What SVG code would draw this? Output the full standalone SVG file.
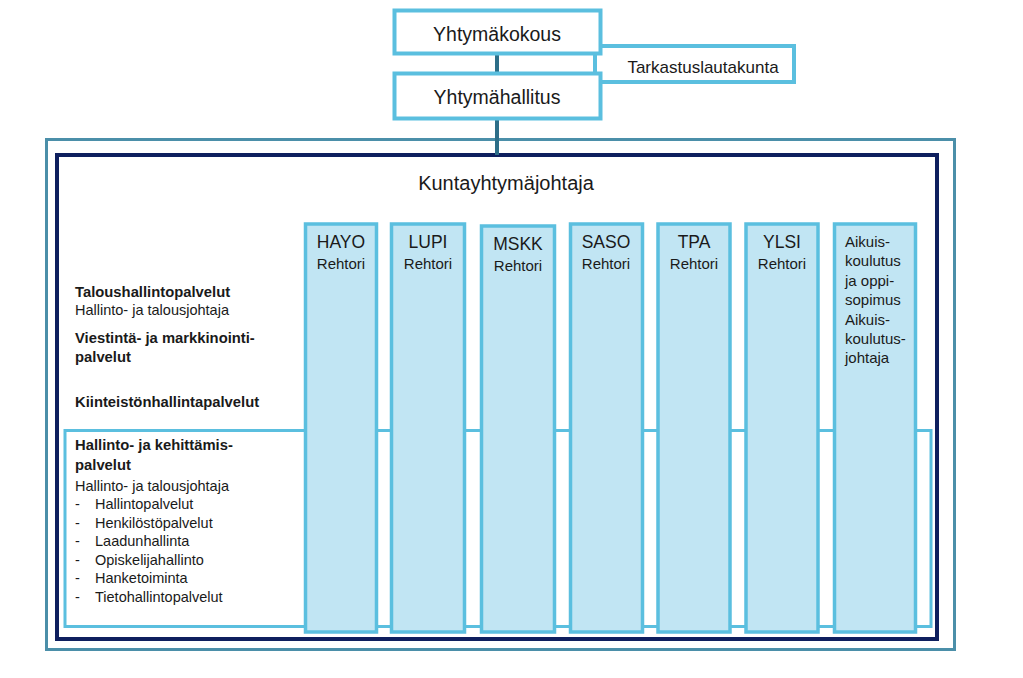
<svg xmlns="http://www.w3.org/2000/svg" width="1023" height="678" viewBox="0 0 1023 678">
<style>
text{font-family:"Liberation Sans",Arial,sans-serif;fill:#1a1a1a}
.box{fill:#fff;stroke:#5bbfdf;stroke-width:4}
.col{fill:#c1e5f3;stroke:#5bbfdf;stroke-width:3.5}
.conn{stroke:#2d6e88;stroke-width:4;fill:none}
.b{font-weight:bold;font-size:14.8px}
.r{font-size:14.5px}
.ct{font-size:17.5px;text-anchor:middle}
.cr{font-size:15px;text-anchor:middle}
.ak{font-size:15px}
</style>
<rect width="1023" height="678" fill="#fff"/>
<g id="outer">
<rect x="46.5" y="139.5" width="908" height="510" fill="#fff" stroke="#4b8fa9" stroke-width="3"/>
<rect x="57" y="155" width="880" height="484" fill="#fff" stroke="#0e1f5e" stroke-width="4"/>
</g>
<g id="connectors">
<line class="conn" x1="497" y1="54" x2="497" y2="73"/>
<line class="conn" x1="497" y1="119" x2="497" y2="155"/>
</g>
<g id="tarkastuslautakunta">
<rect class="box" x="595" y="46" width="199" height="36"/>
<text x="703" y="73" font-size="17" text-anchor="middle">Tarkastuslautakunta</text>
</g>
<g id="yhtymakokous">
<rect class="box" x="394.5" y="10.5" width="206" height="43"/>
<text x="497" y="41" font-size="19.5" text-anchor="middle">Yhtymäkokous</text>
</g>
<g id="yhtymahallitus">
<rect class="box" x="394.5" y="73.5" width="206" height="45"/>
<text x="497" y="104" font-size="19.5" text-anchor="middle">Yhtymähallitus</text>
</g>
<g id="kuntayhtymajohtaja">
<text x="506" y="190" font-size="20" text-anchor="middle">Kuntayhtymäjohtaja</text>
</g>
<g id="hallinto-kehittamis">
<rect x="65" y="430.5" width="866" height="196" fill="#fff" stroke="#5bbfdf" stroke-width="3"/>
<text class="b" x="75" y="450">Hallinto- ja kehittämis-</text>
<text class="b" x="75" y="470">palvelut</text>
<text class="r" x="75" y="491">Hallinto- ja talousjohtaja</text>
<g class="r">
<text x="75" y="509">-</text><text x="95" y="509">Hallintopalvelut</text>
<text x="75" y="528">-</text><text x="95" y="528">Henkilöstöpalvelut</text>
<text x="75" y="546">-</text><text x="95" y="546">Laadunhallinta</text>
<text x="75" y="565">-</text><text x="95" y="565">Opiskelijahallinto</text>
<text x="75" y="583">-</text><text x="95" y="583">Hanketoiminta</text>
<text x="75" y="602">-</text><text x="95" y="602">Tietohallintopalvelut</text>
</g>
</g>
<g id="taloushallinto">
<text class="b" x="75" y="297">Taloushallintopalvelut</text>
<text class="r" x="75" y="315">Hallinto- ja talousjohtaja</text>
</g>
<g id="viestinta">
<text class="b" x="75" y="343">Viestintä- ja markkinointi-</text>
<text class="b" x="75" y="362">palvelut</text>
</g>
<g id="kiinteisto">
<text class="b" x="75" y="407">Kiinteistönhallintapalvelut</text>
</g>
<g id="hayo">
<rect class="col" x="305.5" y="224" width="71" height="408"/>
<text class="ct" x="341" y="248">HAYO</text>
<text class="cr" x="341" y="269">Rehtori</text>
</g>
<g id="lupi">
<rect class="col" x="391.5" y="224" width="73" height="408"/>
<text class="ct" x="428" y="248">LUPI</text>
<text class="cr" x="428" y="269">Rehtori</text>
</g>
<g id="mskk">
<rect class="col" x="481.5" y="226" width="73" height="406"/>
<text class="ct" x="518" y="250">MSKK</text>
<text class="cr" x="518" y="271">Rehtori</text>
</g>
<g id="saso">
<rect class="col" x="570.5" y="224" width="72" height="408"/>
<text class="ct" x="606" y="248">SASO</text>
<text class="cr" x="606" y="269">Rehtori</text>
</g>
<g id="tpa">
<rect class="col" x="658" y="224" width="72" height="408"/>
<text class="ct" x="694" y="248">TPA</text>
<text class="cr" x="694" y="269">Rehtori</text>
</g>
<g id="ylsi">
<rect class="col" x="746" y="224" width="72" height="408"/>
<text class="ct" x="782" y="248">YLSI</text>
<text class="cr" x="782" y="269">Rehtori</text>
</g>
<g id="aikuis">
<rect class="col" x="834.5" y="224" width="81" height="408"/>
<g class="ak">
<text x="845" y="247">Aikuis-</text>
<text x="845" y="266">koulutus</text>
<text x="845" y="286">ja oppi-</text>
<text x="845" y="305">sopimus</text>
<text x="845" y="325">Aikuis-</text>
<text x="845" y="344">koulutus-</text>
<text x="845" y="363">johtaja</text>
</g>
</g>
</svg>
